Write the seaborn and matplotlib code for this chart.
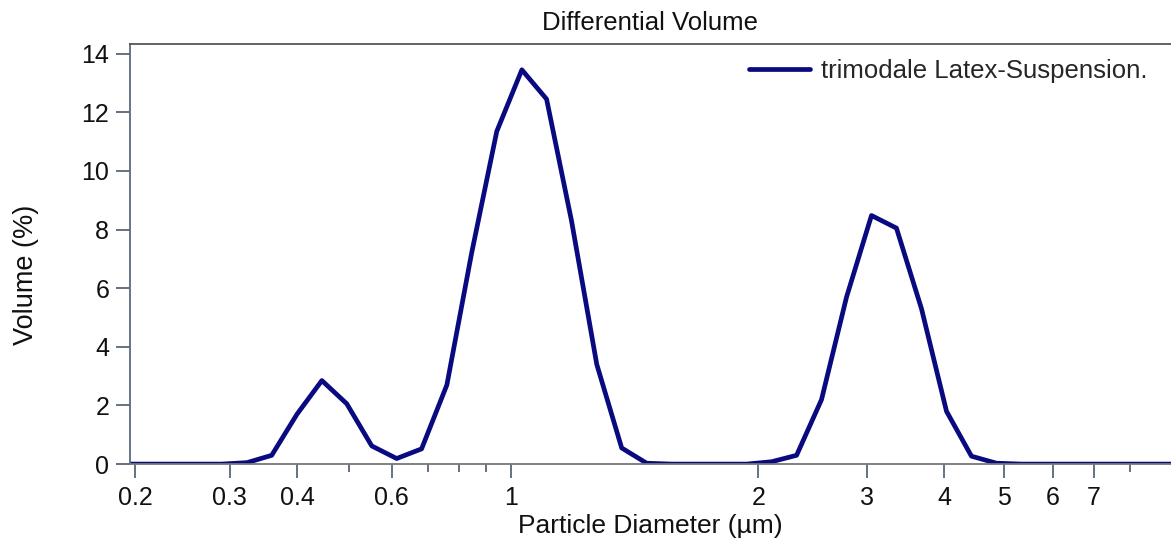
import numpy as np
import pandas as pd
import matplotlib
matplotlib.use("Agg")
import matplotlib.pyplot as plt
import seaborn as sns

# particle diameter (µm) of each size class
diameter = [0.189, 0.210, 0.234, 0.260, 0.290, 0.323, 0.359, 0.400, 0.445, 0.495,
            0.551, 0.613, 0.682, 0.760, 0.845, 0.941, 1.031, 1.105, 1.185, 1.272,
            1.364, 1.463, 1.569, 1.683, 1.805, 1.936, 2.102, 2.308, 2.533, 2.781,
            3.052, 3.350, 3.678, 4.038, 4.432, 4.866, 5.342, 5.863, 6.436, 7.065,
            7.756, 8.514, 9.346]
# differential volume (%)
volume = [0.0, 0.0, 0.0, 0.0, 0.0, 0.05, 0.3, 1.7, 2.85, 2.06,
          0.62, 0.19, 0.52, 2.7, 7.2, 11.35, 13.45, 12.45, 8.3, 3.4,
          0.55, 0.03, 0.0, 0.0, 0.0, 0.0, 0.08, 0.3, 2.2, 5.7,
          8.48, 8.05, 5.3, 1.8, 0.27, 0.03, 0.0, 0.0, 0.0, 0.0,
          0.0, 0.0, 0.0]
series_name = "trimodale Latex-Suspension."

major_ticks = [0.2, 0.3, 0.4, 0.6, 1, 2, 3, 4, 5, 6, 7]
major_labels = ["0.2", "0.3", "0.4", "0.6", "1", "2", "3", "4", "5", "6", "7"]
minor_ticks = [0.5, 0.7, 0.8, 0.9, 8]
y_ticks = [0, 2, 4, 6, 8, 10, 12, 14]

df = pd.DataFrame({"diameter": diameter, "volume": volume})

# the instrument's diameter axis is logarithmic but with a stretched 1-2 µm decade
L2 = np.log10(2)


def forward(x):
    lx = np.log10(np.maximum(np.asarray(x, dtype=float), 1e-9))
    return np.where(lx < 0, lx * 538.0,
                    np.where(lx < L2, lx * 821.5, 247.3 + (lx - L2) * 617.4))


def inverse(p):
    p = np.asarray(p, dtype=float)
    return np.where(p < 0, 10 ** (p / 538.0),
                    np.where(p < 247.3, 10 ** (p / 821.5), 2 * 10 ** ((p - 247.3) / 617.4)))


sns.set_style("ticks")
plt.rcParams["font.family"] = ["Liberation Sans", "DejaVu Sans"]

fig = plt.figure(figsize=(11.71, 5.46), dpi=100)
ax = fig.add_axes([0.111, 0.150, 0.889, 0.7694])

sns.lineplot(data=df, x="diameter", y="volume", ax=ax, color="#0a0a80",
             lw=3.4, label=series_name, sort=False)

ax.set_xscale("function", functions=(forward, inverse))
ax.set_xlim(0.1957, 9.33)
ax.set_ylim(0, 14.33)

ax.set_xticks(major_ticks)
ax.set_xticklabels(major_labels)
ax.set_xticks(minor_ticks, minor=True)
ax.set_yticks(y_ticks)

ax.tick_params(axis="both", which="major", labelsize=18, length=10, width=1.2,
               color="#4a5a6e", labelcolor="#111111")
ax.tick_params(axis="x", which="major", pad=6)
ax.tick_params(axis="y", which="major", pad=5)
ax.tick_params(axis="x", which="minor", length=6, width=1.2, color="#4a5a6e")

ax.set_title("Differential Volume", fontsize=18.5, color="#111111", pad=10)
ax.set_xlabel("Particle Diameter (µm)", fontsize=19, color="#111111", labelpad=3)
ax.set_ylabel("Volume (%)", fontsize=19.5, color="#111111")
ax.yaxis.set_label_coords(-0.087, 0.45)

for side in ["left", "bottom", "top"]:
    ax.spines[side].set_visible(True)
    ax.spines[side].set_linewidth(1.3)
ax.spines["left"].set_color("#5a6a80")
ax.spines["bottom"].set_color("#777777")
ax.spines["top"].set_color("#555555")
ax.spines["right"].set_visible(False)

ax.legend(loc="upper right", frameon=False, fontsize=18.5, handlelength=2.4,
          handletextpad=0.4, borderaxespad=0.2, bbox_to_anchor=(0.992, 1.0))

fig.savefig("out.png", dpi=100)
